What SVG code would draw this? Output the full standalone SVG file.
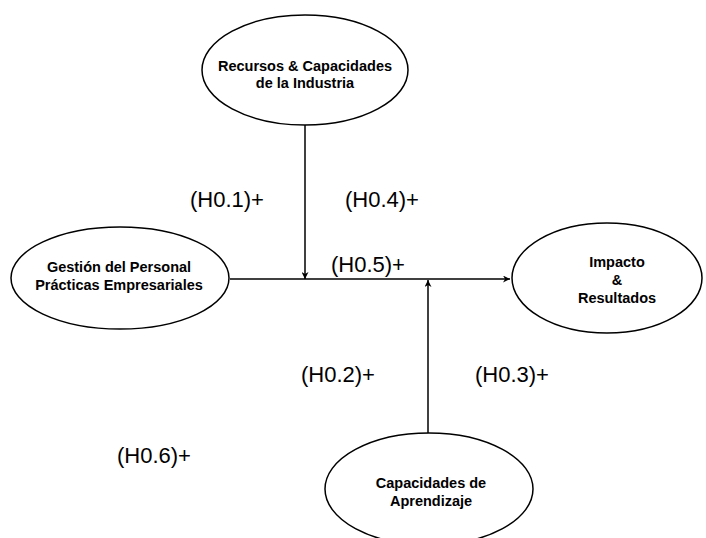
<svg xmlns="http://www.w3.org/2000/svg" width="706" height="538" viewBox="0 0 706 538">
<defs>
<style>
.node ellipse{fill:#fff;stroke:#000;stroke-width:1.5}
.node text{font-family:"Liberation Sans",Arial,sans-serif;font-weight:bold;font-size:14.5px;text-anchor:middle;fill:#000}
.lbl{font-family:"Liberation Sans",Arial,sans-serif;font-size:22px;fill:#000}
.conn line{stroke:#000;stroke-width:1.5;fill:none}
</style>
<marker id="arr" viewBox="0 0 10 10" refX="10" refY="5" markerWidth="8" markerHeight="7" markerUnits="userSpaceOnUse" orient="auto">
<path d="M0,0 L10,5 L0,10 L3,5 Z" fill="#000"/>
</marker>
</defs>
<rect width="706" height="538" fill="#fff"/>
<g id="connectors" class="conn">
<line x1="230" y1="279" x2="510" y2="279" marker-end="url(#arr)"/>
<line x1="305" y1="125" x2="305" y2="279" marker-end="url(#arr)"/>
<line x1="428" y1="433" x2="428" y2="280" marker-end="url(#arr)"/>
</g>
<g id="n-recursos" class="node">
<ellipse cx="305" cy="70" rx="103" ry="55"/>
<text x="305" y="71">Recursos &amp; Capacidades</text>
<text x="305" y="88">de la Industria</text>
</g>
<g id="n-gestion" class="node">
<ellipse cx="120" cy="278" rx="109" ry="51"/>
<text x="119" y="272">Gestión del Personal</text>
<text x="119" y="290">Prácticas Empresariales</text>
</g>
<g id="n-impacto" class="node">
<ellipse cx="607" cy="278" rx="95" ry="55"/>
<text x="617" y="267">Impacto</text>
<text x="617" y="285">&amp;</text>
<text x="617" y="303">Resultados</text>
</g>
<g id="n-capacidades" class="node">
<ellipse cx="429" cy="489" rx="104" ry="56"/>
<text x="431" y="488">Capacidades de</text>
<text x="431" y="506">Aprendizaje</text>
</g>
<g id="labels">
<text class="lbl" x="190" y="207">(H0.1)+</text>
<text class="lbl" x="345" y="207">(H0.4)+</text>
<text class="lbl" x="331" y="272">(H0.5)+</text>
<text class="lbl" x="301" y="382">(H0.2)+</text>
<text class="lbl" x="475" y="382">(H0.3)+</text>
<text class="lbl" x="117" y="463">(H0.6)+</text>
</g>
</svg>
